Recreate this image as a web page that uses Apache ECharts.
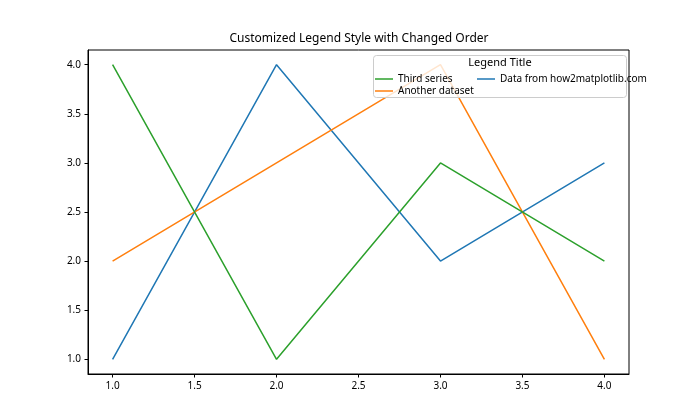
<!DOCTYPE html>
<html><head><meta charset="utf-8">
<script src="https://cdn.jsdelivr.net/npm/echarts@6/dist/echarts.min.js"></script>
<style>html,body{margin:0;padding:0;background:#fff}#c{width:700px;height:420px}</style>
</head><body><div id="c"></div>
<script>
const xValues = [1, 2, 3, 4];
const seriesNames = ['Data from how2matplotlib.com', 'Another dataset', 'Third series'];
const blueValues = [1, 4, 2, 3];
const orangeValues = [2, 3, 4, 1];
const greenValues = [4, 1, 3, 2];
const xTicks = [1.0, 1.5, 2.0, 2.5, 3.0, 3.5, 4.0];
const yTicks = [1.0, 1.5, 2.0, 2.5, 3.0, 3.5, 4.0];
const colors = ['#1f77b4', '#ff7f0e', '#2ca02c'];
const font = 'Noto Sans';

const allValues = [blueValues, orangeValues, greenValues];
const chart = echarts.init(document.getElementById('c'), null, {renderer: 'canvas'});
const legendText = {fontFamily: font, fontSize: 10, color: '#000', lineHeight: 12};
chart.setOption({
  animation: false,
  grid: {left: 88, right: 71, top: 50, bottom: 46, show: true, borderColor: '#000', borderWidth: 1, backgroundColor: 'transparent'},
  xAxis: {type: 'value', min: 0.85, max: 4.15, splitLine: {show: false},
    axisLine: {show: true, lineStyle: {color: '#000', width: 1}},
    axisTick: {show: true, inside: false, length: 3.5, lineStyle: {color: '#000'}, customValues: xTicks},
    axisLabel: {customValues: xTicks, formatter: v => v.toFixed(1), fontFamily: font, fontSize: 10, color: '#000', margin: 7}},
  yAxis: {type: 'value', min: 0.85, max: 4.15, splitLine: {show: false},
    axisLine: {show: true, lineStyle: {color: '#000', width: 1}},
    axisTick: {show: true, inside: false, length: 3.5, lineStyle: {color: '#000'}, customValues: yTicks},
    axisLabel: {customValues: yTicks, formatter: v => v.toFixed(1), fontFamily: font, fontSize: 10, color: '#000', margin: 7}},
  legend: [
    {orient: 'vertical', left: 375, top: 73, itemGap: 0, itemWidth: 18, itemHeight: 1.5, icon: 'rect',
      data: ['Third series', 'Another dataset'], textStyle: legendText, z: 20, padding: 0, itemStyle: {borderWidth: 0}},
    {orient: 'vertical', left: 477, top: 73, itemGap: 0, itemWidth: 18, itemHeight: 1.5, icon: 'rect',
      data: ['Data from how2matplotlib.com'], textStyle: legendText, z: 20, padding: 0, itemStyle: {borderWidth: 0}}
  ],
  graphic: [
    {type: 'text', x: 359, y: 33, z: 11,
      style: {text: 'Customized Legend Style with Changed Order', fontFamily: font, fontSize: 12, fill: '#000', textAlign: 'center'}},
    {type: 'rect', shape: {x: 373.5, y: 55.5, width: 253, height: 42, r: 3}, z: 10,
      style: {fill: 'rgba(255,255,255,0.8)', stroke: '#cccccc', lineWidth: 1}},
    {type: 'text', x: 500, y: 57, z: 11,
      style: {text: 'Legend Title', fontFamily: font, fontSize: 11, fill: '#000', textAlign: 'center'}}
  ],
  series: seriesNames.map((n, i) => ({
    name: n, type: 'line', data: xValues.map((x, j) => [x, allValues[i][j]]),
    showSymbol: false, symbol: 'none', lineStyle: {width: 1.5, color: colors[i]}, itemStyle: {color: colors[i]}, z: 2 + i
  }))
});
</script></body></html>
